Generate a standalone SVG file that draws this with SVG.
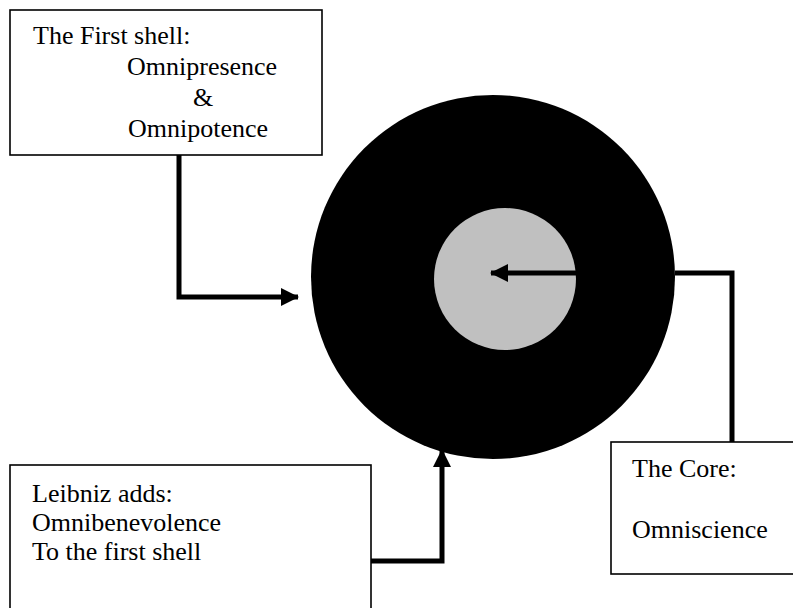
<svg xmlns="http://www.w3.org/2000/svg" width="793" height="608" viewBox="0 0 793 608">
  <style>
    .box { fill: #ffffff; stroke: #000000; stroke-width: 1.6; }
    .label { font-family: "Liberation Serif", serif; font-size: 26px; fill: #000000; }
    .wire { fill: none; stroke: #000000; stroke-width: 5; stroke-linejoin: miter; }
  </style>
  <defs>
    <marker id="head" markerUnits="userSpaceOnUse" markerWidth="18" markerHeight="18" refX="17" refY="9" orient="auto">
      <path d="M0,0 L18,9 L0,18 Z" fill="#000000"/>
    </marker>
  </defs>

  <rect width="793" height="608" fill="#ffffff"/>

  <!-- Concentric shells -->
  <g id="outer-shell">
    <circle cx="493" cy="277" r="182" fill="#000000"/>
  </g>
  <g id="core">
    <circle cx="505" cy="279" r="71" fill="#c0c0c0"/>
  </g>

  <!-- Boxes -->
  <g id="first-shell">
    <rect class="box" x="10" y="10" width="312" height="145"/>
    <text class="label" x="33" y="44">The First shell:</text>
    <text class="label" x="127" y="75">Omnipresence</text>
    <text class="label" x="193" y="106">&amp;</text>
    <text class="label" x="128" y="137">Omnipotence</text>
  </g>

  <g id="leibniz">
    <rect class="box" x="10" y="465" width="361" height="160"/>
    <text class="label" x="32" y="502">Leibniz adds:</text>
    <text class="label" x="32" y="531">Omnibenevolence</text>
    <text class="label" x="32" y="560">To the first shell</text>
  </g>

  <g id="the-core">
    <rect class="box" x="611" y="442" width="200" height="132"/>
    <text class="label" x="632" y="477">The Core:</text>
    <text class="label" x="632" y="538">Omniscience</text>
  </g>

  <!-- Connectors -->
  <g id="connectors">
    <path class="wire" d="M179,155 L179,297 L298,297" marker-end="url(#head)"/>
    <path class="wire" d="M371,561 L442,561 L442,450" marker-end="url(#head)"/>
    <path class="wire" d="M732,442 L732,273 L675,273"/>
    <path class="wire" d="M576,273 L491,273" marker-end="url(#head)"/>
  </g>
</svg>
